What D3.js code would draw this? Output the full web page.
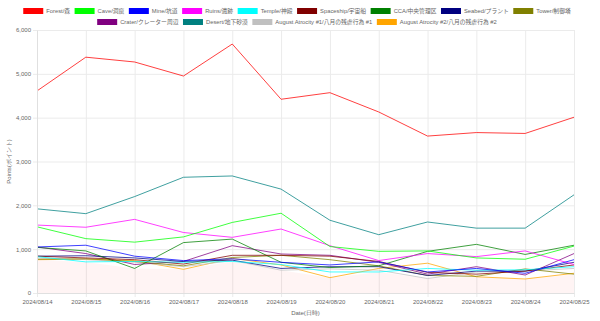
<!DOCTYPE html>
<html>
<head>
<meta charset="utf-8">
<script src="https://cdn.jsdelivr.net/npm/d3@7"></script>
<style>
  html, body { margin: 0; padding: 0; background: #fff; }
  svg { display: block; font-family: "Liberation Sans", Arial, "Noto Sans CJK JP", sans-serif; }
</style>
</head>
<body>
<div id="chart"></div>
<script>
const dates = ["2024/08/14", "2024/08/15", "2024/08/16", "2024/08/17", "2024/08/18", "2024/08/19",
    "2024/08/20", "2024/08/21", "2024/08/22", "2024/08/23", "2024/08/24", "2024/08/25"];

const seriesNames = ["Forest/森", "Cave/洞窟", "Mine/坑道", "Ruins/遺跡", "Temple/神殿", "Spaceship/宇宙船",
    "CCA/中央管理区", "Seabed/プラント", "Tower/制御塔", "Crater/クレーター周辺", "Desert/地下砂漠",
    "August Atrocity #1/八月の残虐行為 #1", "August Atrocity #2/八月の残虐行為 #2"];

const seriesColours = ["#ff0000", "#00ff00", "#0000ff", "#ff00ff", "#00ffff", "#800000",
    "#008000", "#000080", "#808000", "#800080", "#008080", "#c0c0c0", "#ffa500"];

const forest    = [4610, 5380, 5270, 4950, 5680, 4420, 4570, 4130, 3580, 3660, 3640, 4010];
const cave      = [1510, 1240, 1160, 1280, 1610, 1820, 1060, 950, 960, 800, 770, 1070];
const mine      = [1050, 1090, 840, 740, 780, 700, 640, 710, 480, 560, 450, 760];
const ruins     = [1550, 1500, 1680, 1380, 1270, 1460, 1080, 740, 900, 830, 960, 650];
const temple    = [830, 710, 720, 700, 720, 650, 480, 480, 560, 520, 530, 600];
const spaceship = [840, 800, 760, 660, 860, 860, 840, 720, 470, 430, 500, 640];
const cca       = [1040, 960, 560, 1150, 1230, 700, 580, 620, 950, 1110, 880, 1090];
const seabed    = [840, 850, 800, 720, 750, 560, 600, 600, 400, 500, 500, 700];
const tower     = [770, 780, 720, 620, 810, 860, 760, 620, 400, 380, 550, 430];
const crater    = [1050, 900, 650, 720, 1080, 890, 860, 700, 430, 600, 410, 900];
const desert    = [1920, 1810, 2200, 2640, 2670, 2370, 1660, 1330, 1620, 1480, 1480, 2240];
const atrocity1 = [800, 760, 700, 600, 740, 520, 550, 520, 330, 480, 500, 560];
const atrocity2 = [760, 770, 740, 540, 790, 640, 350, 560, 680, 370, 320, 450];

const yTicks = [0, 1000, 2000, 3000, 4000, 5000, 6000];

const seriesValues = [forest, cave, mine, ruins, temple, spaceship, cca, seabed, tower, crater, desert, atrocity1, atrocity2];
const series = seriesNames.map((name, i) => ({ name, colour: seriesColours[i], values: seriesValues[i] }));

const W = 600, H = 321;
const margin = { top: 30, right: 26, bottom: 28, left: 37 },
    width = W - margin.left - margin.right,
    height = H - margin.top - margin.bottom;

const root = d3.select("#chart")
    .append("svg")
        .attr("width", W)
        .attr("height", H);

// legend, wrapped and centred like chart.js does it
const legend = root.append("g");
const fontSize = 5.8, boxW = 20, gap = 4.5;
const items = series.map(s => {
    const g = legend.append("g");
    g.append("rect")
        .attr("width", boxW)
        .attr("height", 6)
        .attr("fill", s.colour);
    const t = g.append("text")
        .attr("x", boxW + 3)
        .attr("y", 5.3)
        .style("font-size", `${fontSize}px`)
        .style("fill", "#666")
        .text(s.name);
    return { g, w: boxW + 3 + t.node().getComputedTextLength() };
});
const rows = [[]];
let lineW = 0;
items.forEach(it => {
    if (lineW + it.w + gap > 590 && rows[rows.length - 1].length) { rows.push([]); lineW = 0; }
    rows[rows.length - 1].push(it);
    lineW += it.w + gap;
});
rows.forEach((row, r) => {
    const total = d3.sum(row, d => d.w) + gap * (row.length - 1);
    let x = 297 - total / 2;
    row.forEach(it => {
        it.g.attr("transform", `translate(${x},${8 + r * 11})`);
        x += it.w + gap;
    });
});

const svg = root.append("g")
    .attr("transform", `translate(${margin.left},${margin.top})`);

const x = d3.scalePoint()
    .domain(dates)
    .range([0, width]);

const y = d3.scaleLinear()
    .domain([0, 6000])
    .range([height, 0]);

// grid
svg.append("g")
    .selectAll("line.h")
    .data(yTicks)
    .join("line")
        .attr("x1", -4).attr("x2", width)
        .attr("y1", d => y(d) + 0.5).attr("y2", d => y(d) + 0.5)
        .attr("stroke", "#ebebeb");

svg.append("g")
    .selectAll("line.v")
    .data(dates)
    .join("line")
        .attr("x1", d => x(d) + 0.5).attr("x2", d => x(d) + 0.5)
        .attr("y1", 0).attr("y2", height + 4)
        .attr("stroke", "#ebebeb");

// pale fill under the lowest line
const lowest = dates.map((d, i) => ({ d, v: d3.min(series, s => s.values[i]) }));
svg.append("path")
    .datum(lowest)
    .attr("fill", "rgba(255, 0, 0, 0.045)")
    .attr("d", d3.area().x(p => x(p.d)).y0(height).y1(p => y(p.v)));

const line = d3.line()
    .x((v, i) => x(dates[i]))
    .y(v => y(v));

svg.append("g")
    .selectAll("path")
    .data(series.slice().reverse())
    .join("path")
        .attr("fill", "none")
        .attr("stroke", d => d.colour)
        .attr("stroke-opacity", 0.75)
        .attr("stroke-width", 1)
        .attr("d", d => line(d.values));

const xAxisGroup = svg.append("g")
    .attr("transform", `translate(0,${height})`)
    .call(d3.axisBottom(x).tickSize(0).tickPadding(7));

xAxisGroup.append("text")
    .attr("x", width / 2)
    .attr("y", 22)
    .style("text-anchor", "middle")
    .style("font-size", "6px")
    .style("fill", "#666")
    .text("Date(日時)");

const yAxisGroup = svg.append("g")
    .call(d3.axisLeft(y).tickValues(yTicks).tickFormat(d3.format(",")).tickSize(0).tickPadding(6));

yAxisGroup.append("text")
    .attr("transform", "rotate(-90)")
    .attr("x", -height / 2)
    .attr("y", -26)
    .style("text-anchor", "middle")
    .style("font-size", "6px")
    .style("fill", "#666")
    .text("Points(ポイント)");

[xAxisGroup, yAxisGroup].forEach(g => {
    g.select(".domain").attr("stroke", "#e0e0e0");
    g.selectAll(".tick text")
        .style("font-size", "6px")
        .style("font-family", "\"Liberation Sans\", Arial, sans-serif")
        .style("fill", "#666");
});
</script>
</body>
</html>
